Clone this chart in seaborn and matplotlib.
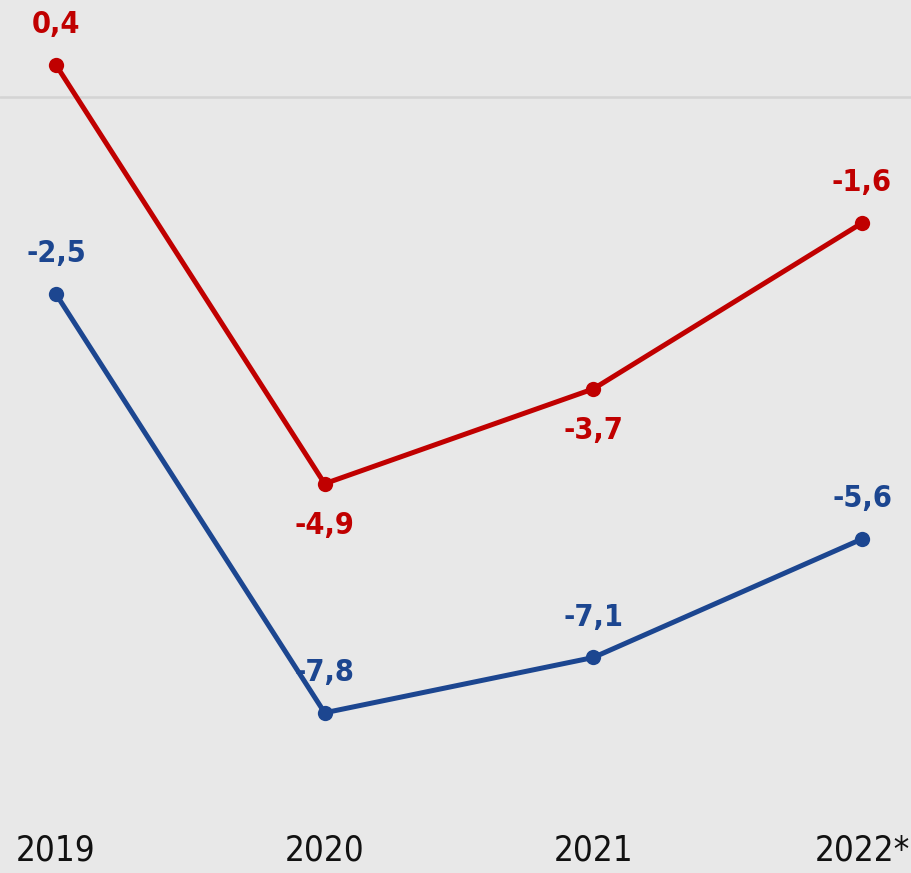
import matplotlib
matplotlib.use("Agg")
import matplotlib.pyplot as plt
import seaborn as sns
import pandas as pd

years = ["2019", "2020", "2021", "2022*"]
red_values = [0.4, -4.9, -3.7, -1.6]
blue_values = [-2.5, -7.8, -7.1, -5.6]
red_label_pos = ["above", "below", "below", "above"]
blue_label_pos = ["above", "above", "above", "above"]

RED = "#c00000"
BLUE = "#1c4690"
BG = "#e8e8e8"

sns.set_theme(style="white")
plt.rcParams["font.family"] = ["DejaVu Sans"]
plt.rcParams["font.stretch"] = "condensed"

df = pd.DataFrame({
    "x": list(range(len(years))) * 2,
    "value": red_values + blue_values,
    "series": ["red"] * len(years) + ["blue"] * len(years),
})

fig = plt.figure(figsize=(9.12, 8.73), dpi=100, facecolor=BG)
ax = fig.add_axes([0, 0, 1, 1])
ax.set_facecolor(BG)

ax.axhline(0, color="#d4d4d4", lw=1.8, zorder=0)

sns.lineplot(data=df, x="x", y="value", hue="series",
             palette={"red": RED, "blue": BLUE}, linewidth=3.6,
             marker="o", markersize=11, markeredgewidth=0,
             legend=False, ax=ax)

for vals, poss, col in [(red_values, red_label_pos, RED), (blue_values, blue_label_pos, BLUE)]:
    for i, (v, p) in enumerate(zip(vals, poss)):
        off = 29 if p == "above" else -30
        ax.annotate(f"{v:.1f}".replace(".", ","), (i, v), xytext=(0, off),
                    textcoords="offset points", ha="center", va="center",
                    fontsize=22, fontweight="bold", color=col,
                    fontstretch="condensed")

for i, y in enumerate(years):
    ax.text(i, 0.006, y, transform=ax.get_xaxis_transform(), ha="center",
            va="bottom", fontsize=25, color="#111111", fontstretch="condensed")

ax.set_xlim(-0.2084, 3.186)
ax.set_ylim(-9.828, 1.2228)
ax.axis("off")

fig.savefig("out.png", dpi=100, facecolor=BG)
